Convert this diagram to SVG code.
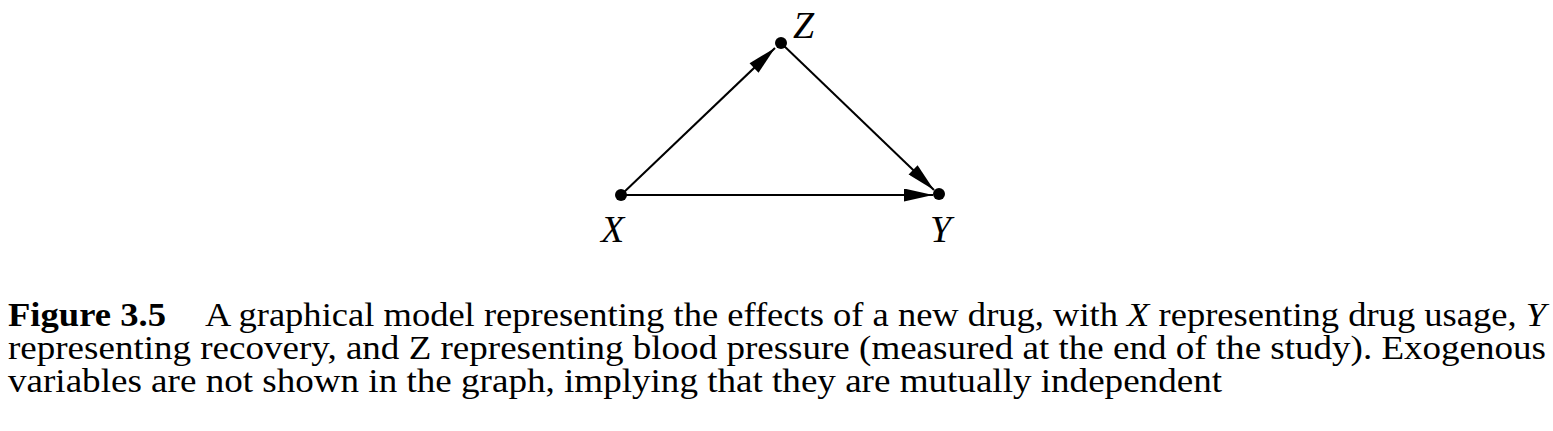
<svg xmlns="http://www.w3.org/2000/svg" width="1553" height="431" viewBox="0 0 1553 431">
<style>
.edge{stroke:#000;stroke-width:2;fill:none}
.dot{fill:#000}
.lbl{font-family:'Liberation Serif','Times New Roman',Times,serif;font-style:italic;font-size:38px;fill:#000}
.cap{font-family:'Liberation Serif','Times New Roman',Times,serif;font-size:33px;fill:#000}
.b{font-weight:bold}
.i{font-style:italic}
</style>
<defs>
<marker id="arr" markerUnits="userSpaceOnUse" markerWidth="30" markerHeight="13" refX="29" refY="6.5" orient="auto" viewBox="0 0 29 13">
<path d="M0,0 L29,6.5 L0,13 z" fill="#000"/>
</marker>
</defs>
<rect width="1553" height="431" fill="#fff"/>
<g id="connectors">
<line class="edge" x1="621" y1="195" x2="933" y2="195" marker-end="url(#arr)"/>
<line class="edge" x1="621" y1="195" x2="775" y2="48" marker-end="url(#arr)"/>
<line class="edge" x1="781" y1="43" x2="934" y2="190" marker-end="url(#arr)"/>
</g>
<g id="node-X"><circle class="dot" cx="621" cy="195" r="6"/><text class="lbl" x="601" y="242">X</text></g>
<g id="node-Z"><circle class="dot" cx="781" cy="43" r="6"/><text class="lbl" x="793" y="38">Z</text></g>
<g id="node-Y"><circle class="dot" cx="939" cy="194" r="6"/><text class="lbl" x="930" y="242">Y</text></g>
<g id="caption">
<text class="cap b" x="8" y="326" textLength="158" lengthAdjust="spacingAndGlyphs">Figure 3.5</text>
<text class="cap" x="205" y="326" textLength="1341" lengthAdjust="spacingAndGlyphs">A graphical model representing the effects of a new drug, with <tspan class="i">X</tspan> representing drug usage, <tspan class="i">Y</tspan></text>
<text class="cap" x="8" y="359" textLength="1538" lengthAdjust="spacingAndGlyphs">representing recovery, and Z representing blood pressure (measured at the end of the study). Exogenous</text>
<text class="cap" x="8" y="392" textLength="1214" lengthAdjust="spacingAndGlyphs">variables are not shown in the graph, implying that they are mutually independent</text>
</g>
</svg>
